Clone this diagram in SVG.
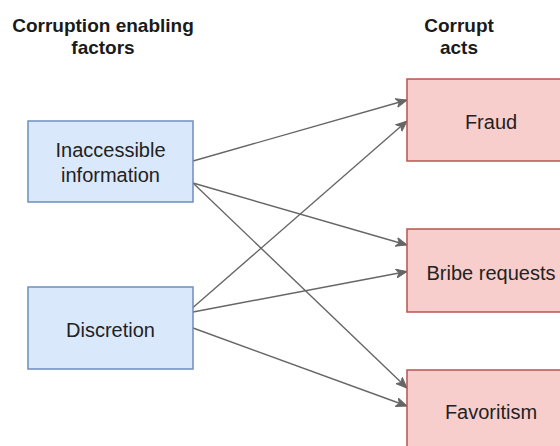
<svg xmlns="http://www.w3.org/2000/svg" width="560" height="446" viewBox="0 0 560 446">
<defs>
<marker id="arr" markerUnits="userSpaceOnUse" markerWidth="12" markerHeight="10" refX="11" refY="5" orient="auto" viewBox="0 0 12 10">
<path d="M0,0.5 L11,5 L0,9.5 L3,5 Z" fill="#666666" stroke="#666666" stroke-width="1" stroke-linejoin="miter"/>
</marker>
<style>
.title{font-family:"Liberation Sans",Arial,sans-serif;font-size:19px;font-weight:bold;fill:#1a1a1a;text-anchor:middle}
.lbl{font-family:"Liberation Sans",Arial,sans-serif;font-size:20px;fill:#222222;text-anchor:middle}
.blue{fill:#dae8fc;stroke:#6c8ebf;stroke-width:1.5}
.red{fill:#f8cecc;stroke:#b85450;stroke-width:1.5}
.edge{fill:none;stroke:#666666;stroke-width:1.4;marker-end:url(#arr)}
</style>
</defs>
<rect width="560" height="446" fill="#ffffff"/>
<g id="title-factors">
<text class="title" x="103" y="32">Corruption enabling</text>
<text class="title" x="103" y="54">factors</text>
</g>
<g id="title-acts">
<text class="title" x="459" y="32">Corrupt</text>
<text class="title" x="459" y="54">acts</text>
</g>
<g id="connectors">
<line class="edge" x1="193" y1="161" x2="407" y2="100"/>
<line class="edge" x1="193" y1="183" x2="407" y2="245"/>
<line class="edge" x1="193" y1="183" x2="407" y2="388"/>
<line class="edge" x1="193" y1="307.5" x2="407" y2="121"/>
<line class="edge" x1="193" y1="312" x2="407" y2="271.5"/>
<line class="edge" x1="193" y1="328" x2="407" y2="406"/>
</g>
<g id="node-inaccessible">
<rect class="blue" x="28" y="121" width="165" height="81"/>
<text class="lbl" x="110.5" y="157">Inaccessible</text>
<text class="lbl" x="110.5" y="182">information</text>
</g>
<g id="node-discretion">
<rect class="blue" x="28" y="287" width="165" height="82"/>
<text class="lbl" x="110.5" y="337">Discretion</text>
</g>
<g id="node-fraud">
<rect class="red" x="407" y="79" width="168" height="82"/>
<text class="lbl" x="491" y="129">Fraud</text>
</g>
<g id="node-bribe">
<rect class="red" x="407" y="229" width="168" height="83"/>
<text class="lbl" x="491" y="280">Bribe requests</text>
</g>
<g id="node-favoritism">
<rect class="red" x="407" y="370" width="168" height="82"/>
<text class="lbl" x="491" y="419">Favoritism</text>
</g>
</svg>
